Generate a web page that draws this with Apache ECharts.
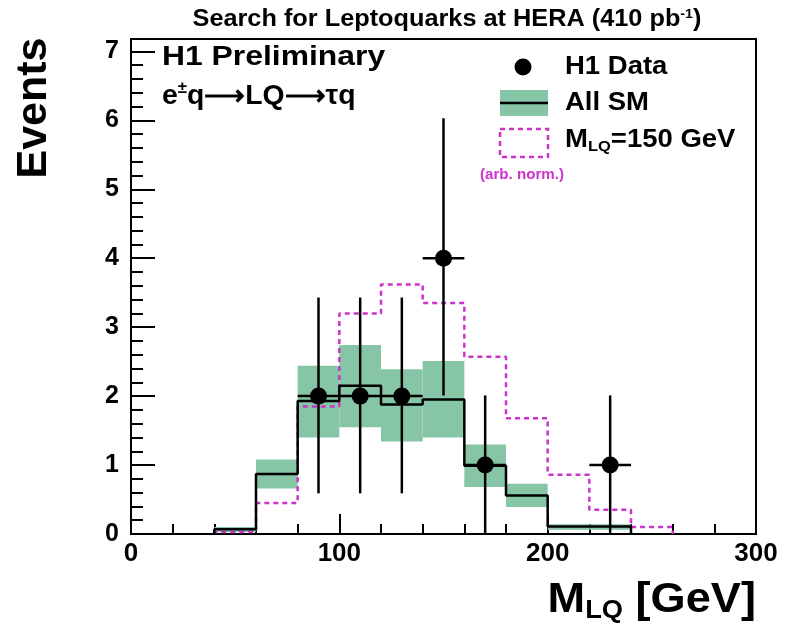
<!DOCTYPE html>
<html>
<head>
<meta charset="utf-8">
<script src="https://cdn.jsdelivr.net/npm/echarts@6/dist/echarts.min.js"></script>
<style>
  html, body { margin: 0; padding: 0; background: #fff; }
  #chart { width: 785px; height: 632px; }
</style>
</head>
<body>
<div id="chart"></div>
<script>
// Histogram bins (lower edges, GeV), 20 GeV wide
const binLow = [0, 20, 40, 60, 80, 100, 120, 140, 160, 180, 200, 220, 240, 260, 280];
const binWidth = 20;

// SM expectation and its uncertainty band
const smTotal = [0, 0, 0.07, 0.87, 1.93, 2.15, 1.88, 1.95, 0.99, 0.56, 0.11, 0.11, 0, 0, 0];
const smLow   = [0, 0, 0.03, 0.66, 1.40, 1.55, 1.34, 1.40, 0.68, 0.39, 0.06, 0.06, 0, 0, 0];
const smHigh  = [0, 0, 0.10, 1.08, 2.44, 2.74, 2.39, 2.51, 1.30, 0.73, 0.14, 0.14, 0, 0, 0];

// Leptoquark signal M_LQ = 150 GeV (arb. norm.)
const lqSignal = [0, 0, 0.03, 0.45, 1.85, 3.20, 3.62, 3.35, 2.57, 1.68, 0.86, 0.35, 0.10, 0, 0];

// H1 data
const dataX       = [90, 110, 130, 150, 170, 230];
const dataY       = [2, 2, 2, 4, 1, 1];
const dataErrLow  = [0.59, 0.59, 0.59, 2.01, 0, 0];
const dataErrHigh = [3.43, 3.43, 3.43, 6.03, 2.01, 2.01];

const greenBand = '#86c5a5';
const magenta = '#cc33cc';
const fontFam = '"Liberation Sans", Arial, Helvetica, sans-serif';

// step points from first to last non-empty bin
function histPoints(values) {
    let first = values.findIndex(v => v > 0);
    let last = values.length - 1;
    while (last > 0 && values[last] <= 0) last--;
    const pts = [[binLow[first], 0]];
    for (let i = first; i <= last; i++) pts.push([binLow[i], values[i]]);
    pts.push([binLow[last] + binWidth, 0]);
    return pts;
}

const bandData = [];
binLow.forEach((x, i) => {
    if (smHigh[i] > 0) bandData.push([x, x + binWidth, smLow[i], smHigh[i]]);
});

const errData = dataX.map((x, i) => [x, dataY[i], dataErrLow[i], dataErrHigh[i], x - binWidth / 2, x + binWidth / 2]);

const chart = echarts.init(document.getElementById('chart'));

const option = {
    backgroundColor: '#fff',
    animation: false,
    grid: {
        left: 131, right: 29, top: 39, bottom: 98,
        show: true, borderColor: '#000', borderWidth: 2, backgroundColor: 'transparent'
    },
    xAxis: {
        type: 'value', min: 0, max: 300, interval: 100,
        axisLine: { show: true, onZero: false, lineStyle: { color: '#000', width: 2 } },
        axisTick: { show: true, inside: true, length: 20, lineStyle: { color: '#000', width: 2 } },
        minorTick: { show: true, splitNumber: 5, length: 10, lineStyle: { color: '#000', width: 2 } },
        splitLine: { show: false },
        axisLabel: { color: '#000', fontFamily: fontFam, fontWeight: 'bold', fontSize: 26, margin: 7 }
    },
    yAxis: [{
        type: 'value', min: 0, max: 7.18, interval: 1,
        axisLine: { show: true, onZero: false, lineStyle: { color: '#000', width: 2 } },
        axisTick: { show: true, inside: true, length: 24, lineStyle: { color: '#000', width: 2 } },
        splitLine: { show: false },
        axisLabel: {
            color: '#000', fontFamily: fontFam, fontWeight: 'bold', fontSize: 25, margin: 12,
            formatter: v => Number.isInteger(v) ? String(v) : ''
        }
    }, {
        // minor ticks every 0.2
        type: 'value', min: 0, max: 7.18, interval: 0.2, position: 'left',
        axisLine: { show: false },
        axisTick: { show: true, inside: true, length: 12, lineStyle: { color: '#000', width: 2 } },
        splitLine: { show: false },
        axisLabel: { show: false }
    }],
    series: [
        {
            name: 'band',
            type: 'custom',
            z: 1,
            data: bandData,
            encode: { x: [0, 1], y: [2, 3] },
            renderItem: function (params, api) {
                const p0 = api.coord([api.value(0), api.value(3)]);
                const p1 = api.coord([api.value(1), api.value(2)]);
                return {
                    type: 'rect',
                    shape: { x: p0[0], y: p0[1], width: p1[0] - p0[0], height: p1[1] - p0[1] },
                    style: { fill: greenBand }
                };
            }
        },
        {
            name: 'LQ',
            type: 'line',
            z: 2,
            step: 'end',
            symbol: 'none',
            data: histPoints(lqSignal),
            lineStyle: { color: magenta, width: 2.5, type: [5, 4] }
        },
        {
            name: 'All SM',
            type: 'line',
            z: 3,
            step: 'end',
            symbol: 'none',
            data: histPoints(smTotal),
            lineStyle: { color: '#000', width: 2.5 }
        },
        {
            name: 'errors',
            type: 'custom',
            z: 4,
            data: errData,
            encode: { x: [0, 4, 5], y: [1, 2, 3] },
            renderItem: function (params, api) {
                const top = api.coord([api.value(0), api.value(3)]);
                const bot = api.coord([api.value(0), api.value(2)]);
                const left = api.coord([api.value(4), api.value(1)]);
                const right = api.coord([api.value(5), api.value(1)]);
                const st = { stroke: '#000', lineWidth: 2.5 };
                return {
                    type: 'group',
                    children: [
                        { type: 'line', shape: { x1: top[0], y1: top[1], x2: bot[0], y2: bot[1] }, style: st },
                        { type: 'line', shape: { x1: left[0], y1: left[1], x2: right[0], y2: right[1] }, style: st }
                    ]
                };
            }
        },
        {
            name: 'H1 Data',
            type: 'scatter',
            z: 5,
            symbol: 'circle',
            symbolSize: 17,
            itemStyle: { color: '#000', opacity: 1 },
            data: dataX.map((x, i) => [x, dataY[i]])
        }
    ],
    graphic: [
        {
            type: 'text', x: 447, y: 20, scaleX: 1.1,
            style: {
                text: 'Search for Leptoquarks at HERA (410 pb{sup|-1})',
                font: 'bold 23px ' + fontFam, fill: '#000', align: 'center', verticalAlign: 'middle',
                rich: { sup: { fontSize: 13, fontWeight: 'bold', fontFamily: fontFam, padding: [0, 0, 12, 0] } }
            }
        },
        {
            type: 'text', x: 34, y: 108, rotation: Math.PI / 2,
            style: { text: 'Events', font: 'bold 43px ' + fontFam, fill: '#000', align: 'center', verticalAlign: 'middle' }
        },
        {
            type: 'text', x: 756, y: 600, scaleX: 1.05,
            style: {
                text: 'M{sub|LQ} [GeV]',
                font: 'bold 43px ' + fontFam, fill: '#000', align: 'right', verticalAlign: 'middle',
                rich: { sub: { fontSize: 26, fontWeight: 'bold', fontFamily: fontFam, padding: [22, 0, 0, 0] } }
            }
        },
        {
            type: 'text', x: 162, y: 58, scaleX: 1.18,
            style: { text: 'H1 Preliminary', font: 'bold 27px ' + fontFam, fill: '#000', verticalAlign: 'middle' }
        },
        {
            type: 'text', x: 162, y: 97, scaleX: 1.05,
            style: {
                text: 'e{sup|±}q⟶LQ⟶τq',
                font: 'bold 27px ' + fontFam, fill: '#000', verticalAlign: 'middle',
                rich: { sup: { fontSize: 16, fontWeight: 'bold', fontFamily: fontFam, padding: [0, 0, 16, 0] } }
            }
        },
        // legend
        { type: 'circle', shape: { cx: 523, cy: 67, r: 8.5 }, style: { fill: '#000' } },
        {
            type: 'text', x: 565, y: 67, scaleX: 1.1,
            style: { text: 'H1 Data', font: 'bold 25px ' + fontFam, fill: '#000', verticalAlign: 'middle' }
        },
        { type: 'rect', shape: { x: 500, y: 90, width: 48, height: 26 }, style: { fill: greenBand } },
        { type: 'line', shape: { x1: 500, y1: 103, x2: 548, y2: 103 }, style: { stroke: '#000', lineWidth: 2.5 } },
        {
            type: 'text', x: 565, y: 103, scaleX: 1.1,
            style: { text: 'All SM', font: 'bold 25px ' + fontFam, fill: '#000', verticalAlign: 'middle' }
        },
        { type: 'rect', shape: { x: 500, y: 129, width: 48, height: 28 }, style: { fill: 'none', stroke: magenta, lineWidth: 2.5, lineDash: [5, 4] } },
        {
            type: 'text', x: 565, y: 140, scaleX: 1.1,
            style: {
                text: 'M{sub|LQ}=150 GeV',
                font: 'bold 25px ' + fontFam, fill: '#000', verticalAlign: 'middle',
                rich: { sub: { fontSize: 15, fontWeight: 'bold', fontFamily: fontFam, padding: [14, 0, 0, 0] } }
            }
        },
        {
            type: 'text', x: 522, y: 175, scaleX: 1.08,
            style: { text: '(arb. norm.)', font: 'bold 14px ' + fontFam, fill: magenta, align: 'center', verticalAlign: 'middle' }
        }
    ]
};

chart.setOption(option);
</script>
</body>
</html>
